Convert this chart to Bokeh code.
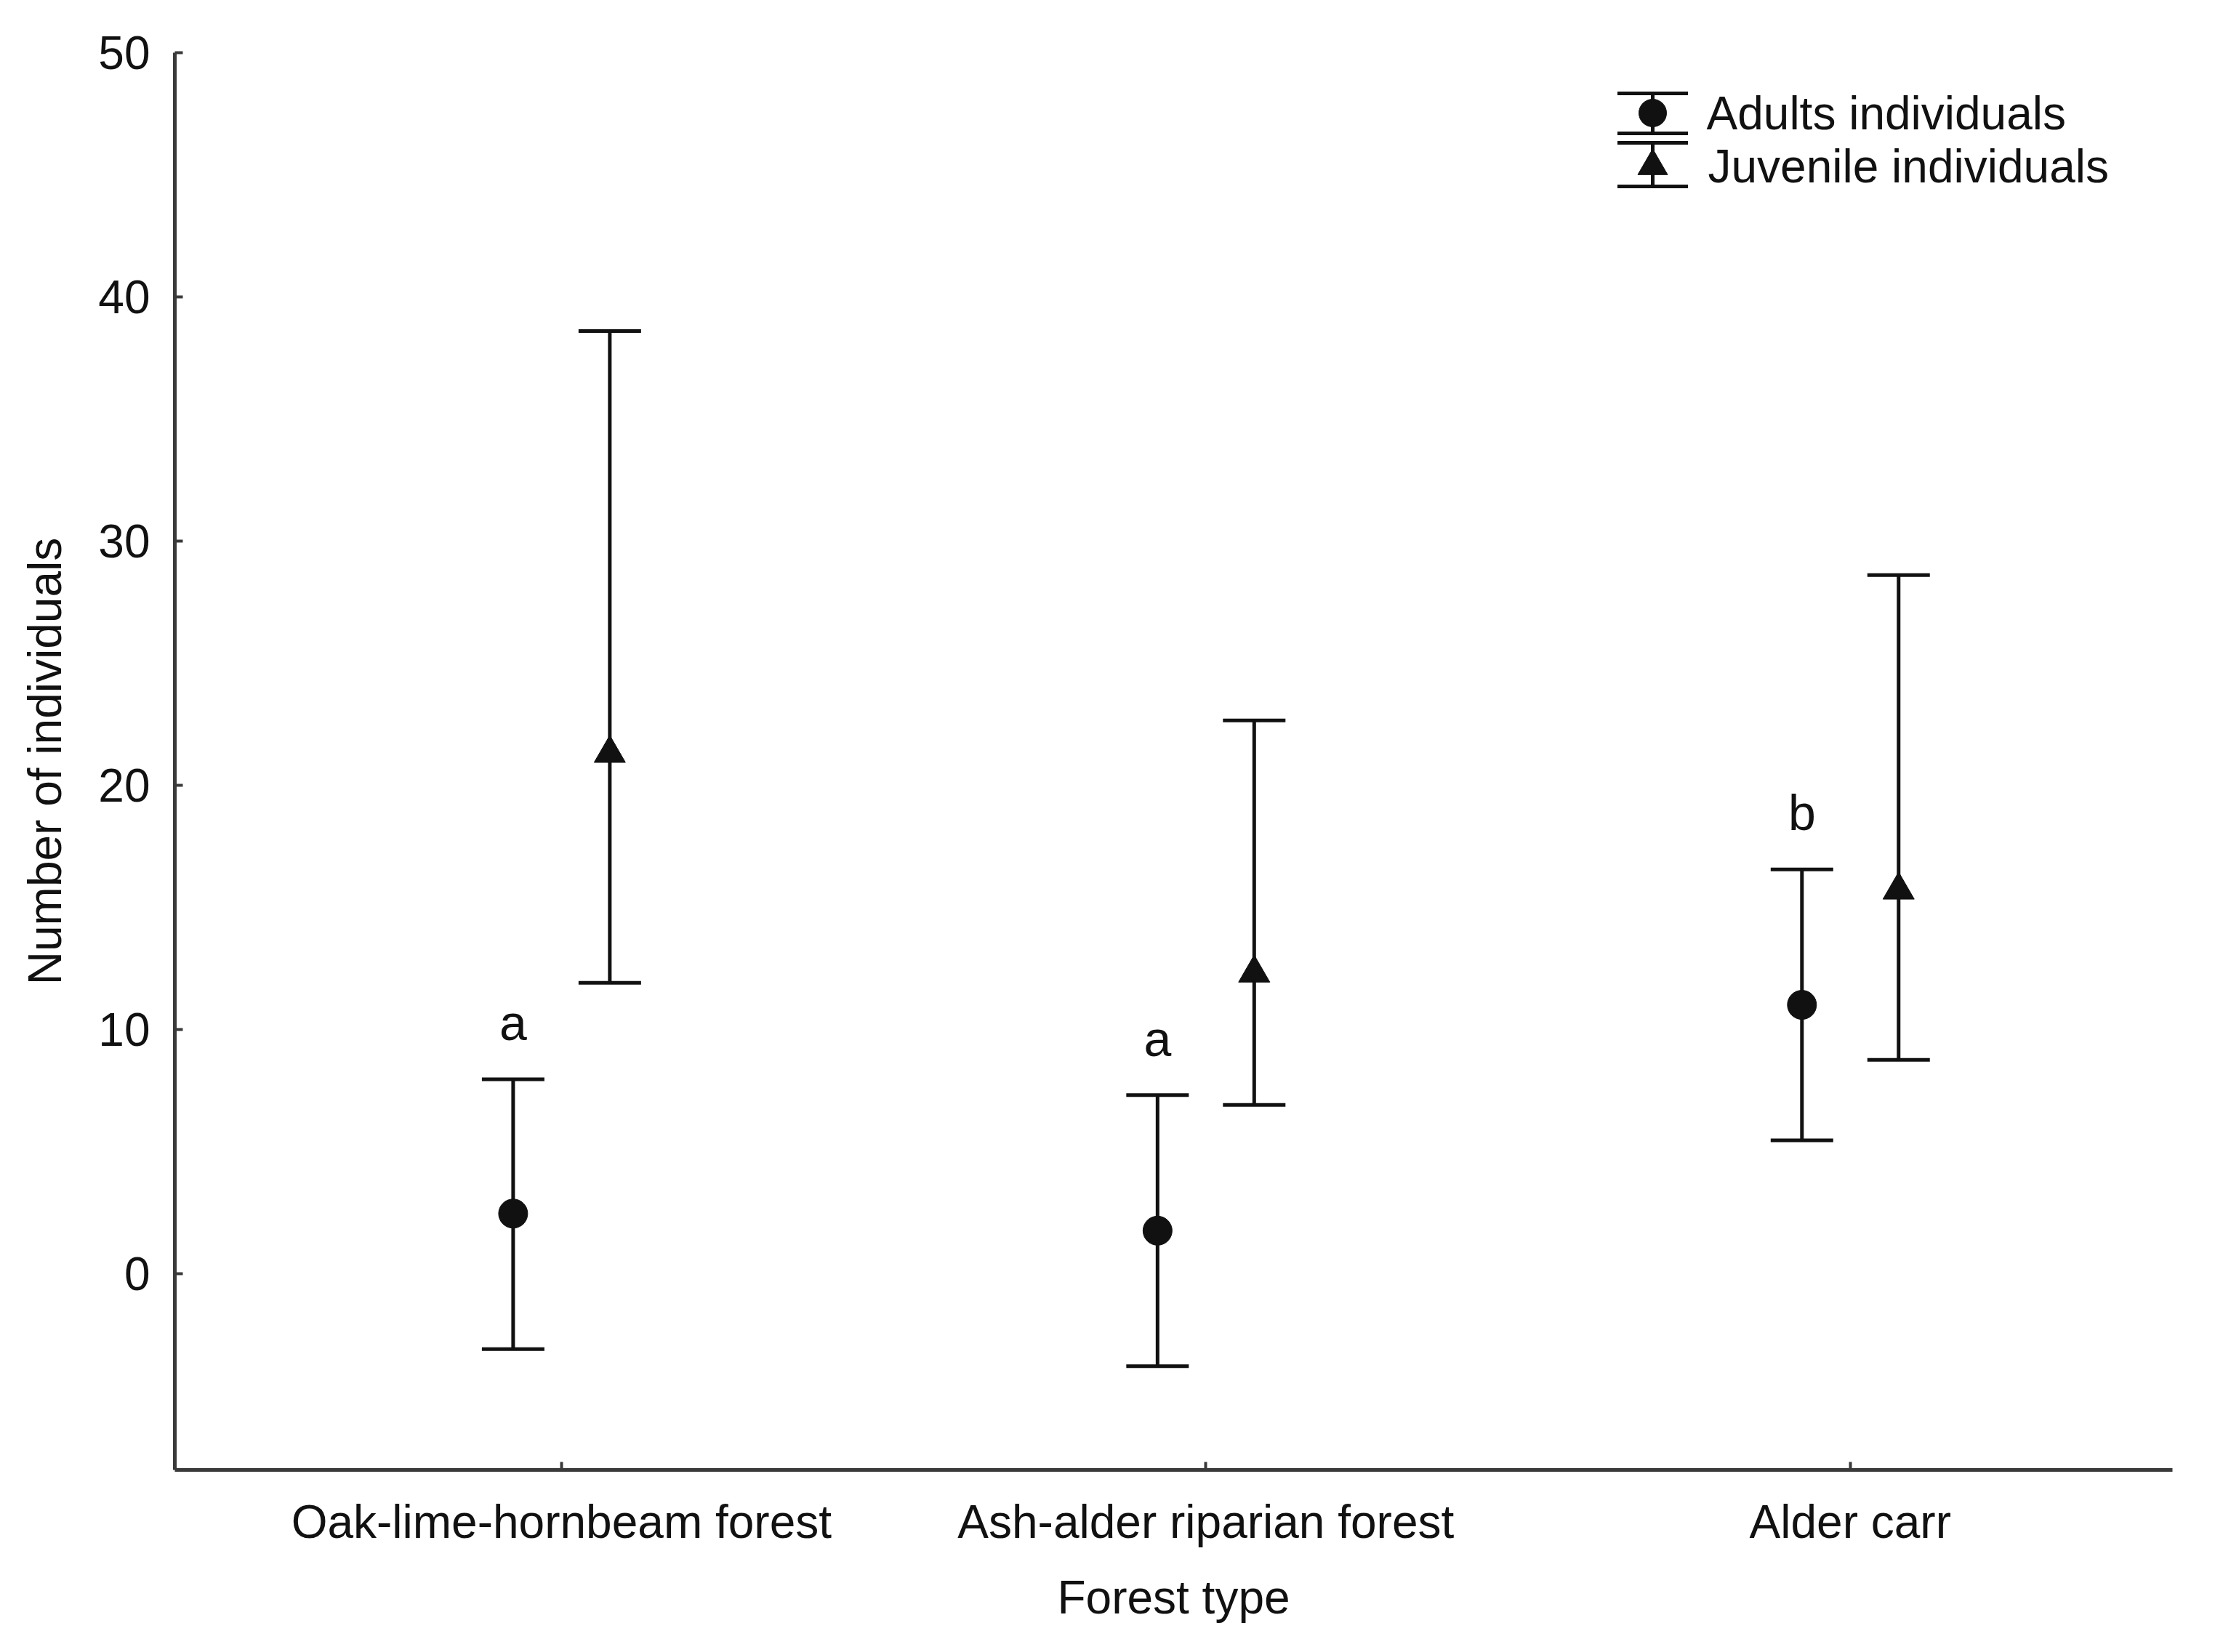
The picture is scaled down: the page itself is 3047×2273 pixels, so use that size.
from bokeh.plotting import figure
from bokeh.models import ColumnDataSource, Whisker, TeeHead, FixedTicker, Range1d
from bokeh.core.properties import value
from bokeh.embed import file_html
from bokeh.resources import INLINE

# ---- data -------------------------------------------------------------
forest_types = ["Oak-lime-hornbeam forest", "Ash-alder riparian forest", "Alder carr"]

adult_mean = [2.45, 1.75, 11.0]
adult_lower = [-3.1, -3.8, 5.45]
adult_upper = [7.95, 7.3, 16.55]

juvenile_mean = [21.3, 12.3, 15.7]
juvenile_lower = [11.9, 6.9, 8.75]
juvenile_upper = [38.6, 22.65, 28.6]

adult_letters = ["a", "a", "b"]

y_ticks = [0, 10, 20, 30, 40, 50]
series_names = ["Adults individuals", "Juvenile individuals"]

# ---- geometry / style -------------------------------------------------
W, H = 3047, 2273
FRAME_L, FRAME_R, FRAME_T, FRAME_B = 240, 2988, 72, 2022
X0, X1 = 0.4, 3.5
Y0, Y1 = -8.05, 50.0
DODGE = 0.075

INK = "#111111"
AXIS = "#3a3a3a"
FONT = "Liberation Sans"
FS = "64px"


def px_x(px):
    return X0 + (px - FRAME_L) / (FRAME_R - FRAME_L) * (X1 - X0)


def px_y(py):
    return Y1 - (py - FRAME_T) / (FRAME_B - FRAME_T) * (Y1 - Y0)


p = figure(width=W, height=H,
           x_range=Range1d(X0, X1), y_range=Range1d(Y0, Y1),
           output_backend="svg", toolbar_location=None,
           min_border_left=FRAME_L, min_border_right=W - FRAME_R,
           min_border_top=FRAME_T, min_border_bottom=H - FRAME_B)
p.title = None
p.outline_line_color = None
p.xgrid.visible = False
p.ygrid.visible = False
p.background_fill_color = "white"
p.border_fill_color = "white"

# ---- axes ---------------------------------------------------------------
cat_pos = [i + 1 for i in range(len(forest_types))]
p.xaxis.ticker = FixedTicker(ticks=cat_pos)
p.xaxis.major_label_overrides = {pos: name for pos, name in zip(cat_pos, forest_types)}
p.yaxis.ticker = FixedTicker(ticks=y_ticks)

for ax in (p.xaxis[0], p.yaxis[0]):
    ax.axis_line_width = 5
    ax.axis_line_color = AXIS
    ax.major_tick_line_width = 4
    ax.major_tick_line_color = AXIS
    ax.major_tick_in = 11
    ax.major_tick_out = 0
    ax.minor_tick_line_color = None
    ax.major_label_text_font = FONT
    ax.major_label_text_font_size = FS
    ax.major_label_text_color = INK
    ax.axis_label_text_font = FONT
    ax.axis_label_text_font_size = FS
    ax.axis_label_text_font_style = "normal"
    ax.axis_label_text_color = INK

p.xaxis.axis_label = "Forest type"
p.xaxis.major_label_standoff = 35
p.xaxis.axis_label_standoff = 29
p.yaxis.axis_label = "Number of individuals"
p.yaxis.major_label_standoff = 34
p.yaxis.axis_label_standoff = 34

# ---- error bars and means -------------------------------------------------
adult_src = ColumnDataSource(dict(
    x=[c - DODGE for c in cat_pos], mean=adult_mean,
    lower=adult_lower, upper=adult_upper, letter=adult_letters))
juv_src = ColumnDataSource(dict(
    x=[c + DODGE for c in cat_pos], mean=juvenile_mean,
    lower=juvenile_lower, upper=juvenile_upper))


def add_bars(src, cap):
    p.add_layout(Whisker(
        base="x", lower="lower", upper="upper", source=src, dimension="height",
        line_width=5, line_color=INK,
        upper_head=TeeHead(size=cap, line_width=5, line_color=INK),
        lower_head=TeeHead(size=cap, line_width=5, line_color=INK)))


add_bars(adult_src, 86)
add_bars(juv_src, 86)

p.scatter("x", "mean", source=adult_src, marker="circle", size=40,
          fill_color=INK, line_color=INK)
p.scatter("x", "mean", source=juv_src, marker="triangle", size=43,
          fill_color=INK, line_color=INK)

# significance letters above the adult bars
p.text(x="x", y="upper", text="letter", source=adult_src,
       text_align="center", text_baseline="alphabetic", y_offset=-78,
       text_font=value(FONT), text_font_size="68px", text_color=INK)

# ---- legend (drawn as glyphs in the top-right corner) --------------------
leg_x = px_x(2273)
leg_src = ColumnDataSource(dict(
    x=[leg_x, leg_x],
    mid=[px_y(155), px_y(228)],
    lower=[px_y(183), px_y(256)],
    upper=[px_y(128), px_y(196)],
    marker=["circle", "triangle"],
    size=[38, 41],
    tx=[px_x(2347), px_x(2349)],
    label=series_names))
add_bars(leg_src, 97)
p.scatter("x", "mid", source=leg_src, marker="marker", size="size",
          fill_color=INK, line_color=INK)
p.text(x="tx", y="mid", text="label", source=leg_src,
       text_align="left", text_baseline="middle",
       text_font=value(FONT), text_font_size=FS, text_color=INK)

open("out.html", "w").write(file_html(p, INLINE))
